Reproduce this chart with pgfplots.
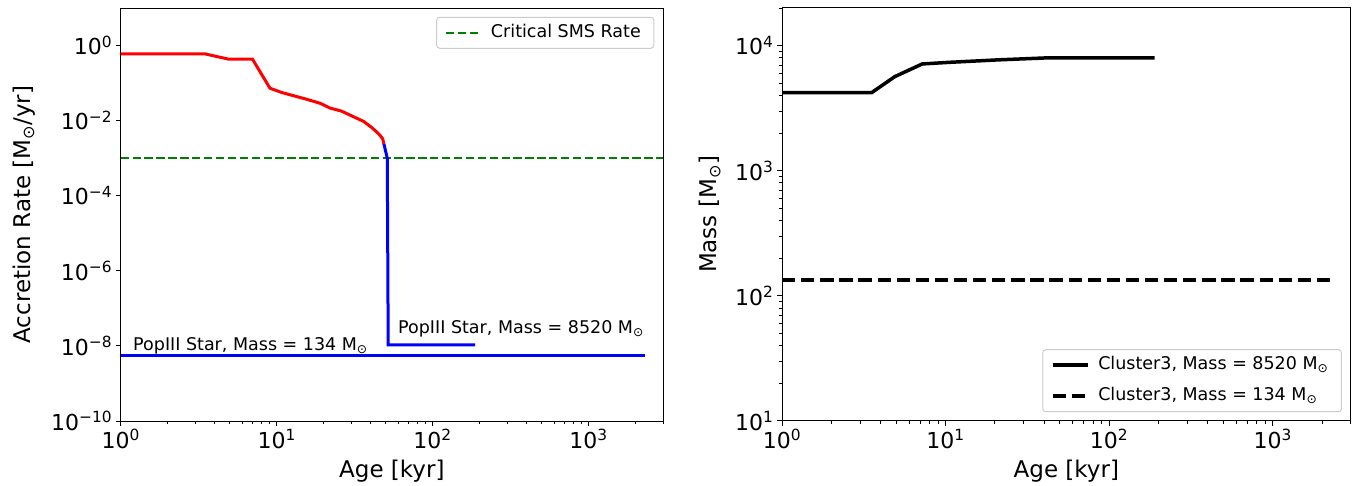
\documentclass[border=0pt]{standalone}
\usepackage{fontspec}
\setmainfont{DejaVu Sans}
\usepackage{pgfplots}
\pgfplotsset{compat=1.18}
\definecolor{mplgreen}{rgb}{0,0.5,0}
\definecolor{legframe}{rgb}{0.8,0.8,0.8}
\newcommand{\tp}[1]{10\textsuperscript{#1}}
\newcommand{\Msun}{M\textsubscript{⊙}}
\pgfplotsset{
  panelstyle/.style={
    scale only axis, height=413pt,
    xmin=1, xmax=3000,
    xtick={1,10,100,1000},
    xticklabels={\tp{0},\tp{1},\tp{2},\tp{3}},
    minor xtick={2,3,4,5,6,7,8,9,20,30,40,50,60,70,80,90,200,300,400,500,600,700,800,900,2000,3000},
    tick align=outside, tick pos=left,
    major tick length=5pt, minor tick length=3pt,
    axis line style={line width=1pt},
    every tick/.style={black, line width=1pt},
    minor tick style={line width=0.8pt},
    tick label style={font=\fontsize{22}{26}\selectfont},
    every axis x label/.style={at={(axis description cs:0.5,-0.121)}, anchor=center, font=\fontsize{23}{27}\selectfont},
    xlabel={Age [kyr]},
    legend style={font=\fontsize{17.5}{21}\selectfont, draw=legframe, line width=1pt, rounded corners=3pt, fill=white, fill opacity=0.8, text opacity=1, inner xsep=8pt, inner ysep=4pt, row sep=8pt, column sep=4pt, nodes={inner xsep=5pt, inner ysep=3pt, text height=13pt, text depth=4pt}},
    legend cell align=left,
    legend image code/.code={\draw[##1] (0pt,0pt) -- (35pt,0pt);},
  }
}
\begin{document}
\begin{tikzpicture}
\useasboundingbox (0,0) rectangle (1353pt,485pt);
\begin{axis}[xmode=log, ymode=log, panelstyle,
  at={(120.7pt,64pt)}, anchor=south west, width=542.3pt,
  ymin=1e-10, ymax=10,
  ytick={1e-10,1e-8,1e-6,1e-4,1e-2,1},
  yticklabels={\tp{−10},\tp{−8},\tp{−6},\tp{−4},\tp{−2},\tp{0}},
  yminorticks=false,
  every axis y label/.style={at={(axis description cs:-0.178,0.5)}, rotate=90, anchor=center, font=\fontsize{23}{27}\selectfont},
  ylabel={Accretion Rate [\Msun/yr]},
  legend style={at={(1,1)}, anchor=north east, xshift=-8.75pt, yshift=-8.75pt},
]
\addplot[mplgreen, line width=2.25pt, dash pattern=on 8.3pt off 3.6pt] coordinates {(1,1e-3) (3000,1e-3)};
\addlegendentry{Critical SMS Rate}
\addplot[red, line width=3pt, forget plot] coordinates {
(1,0.60) (3.47,0.60) (4.9,0.435) (7.0,0.435) (9.06,0.073) (10.8,0.056)
(15.6,0.037) (19,0.029) (22,0.0216) (26,0.018) (31,0.0128) (36,0.0096) (40.6,0.0066) (45,0.0045) (47.8,0.0033) (48.7,0.0024)};
\addplot[blue, line width=3pt, forget plot] coordinates {
(48.7,0.0024) (51.2,1e-3) (51.9,1.07e-8) (187,1.07e-8)};
\addplot[blue, line width=3pt, forget plot] coordinates {
(1,5.4e-9) (2300,5.4e-9)};
\node[anchor=base west, inner sep=0pt, font=\fontsize{17.5}{21}\selectfont] at (axis cs:1.2,7.4e-9) {PopIII Star, Mass = 134 \Msun};
\node[anchor=base west, inner sep=0pt, font=\fontsize{17.5}{21}\selectfont] at (axis cs:60,2.1e-8) {PopIII Star, Mass = 8520 \Msun};
\end{axis}
\begin{axis}[xmode=log, ymode=log, panelstyle,
  at={(782pt,64pt)}, anchor=south west, width=568.7pt,
  ymin=10, ymax=2e4,
  ytick={10,100,1000,10000},
  yticklabels={\tp{1},\tp{2},\tp{3},\tp{4}},
  minor ytick={20,30,40,50,60,70,80,90,200,300,400,500,600,700,800,900,2000,3000,4000,5000,6000,7000,8000,9000,20000},
  every axis y label/.style={at={(axis description cs:-0.127,0.5)}, rotate=90, anchor=center, font=\fontsize{23}{27}\selectfont},
  ylabel={Mass [\Msun]},
  legend style={at={(1,0)}, anchor=south east, xshift=-8.75pt, yshift=8.75pt},
]
\addplot[black, line width=3.5pt] coordinates {
(1,4220) (3.54,4220) (4.9,5660) (7.2,7140) (10.6,7360) (21,7700) (41,7980) (190,7980)};
\addlegendentry{Cluster3, Mass = 8520 \Msun}
\addplot[black, line width=3.5pt, dash pattern=on 13.3pt off 5.8pt] coordinates {
(1,134) (2300,134)};
\addlegendentry{Cluster3, Mass = 134 \Msun}
\end{axis}
\end{tikzpicture}
\end{document}
